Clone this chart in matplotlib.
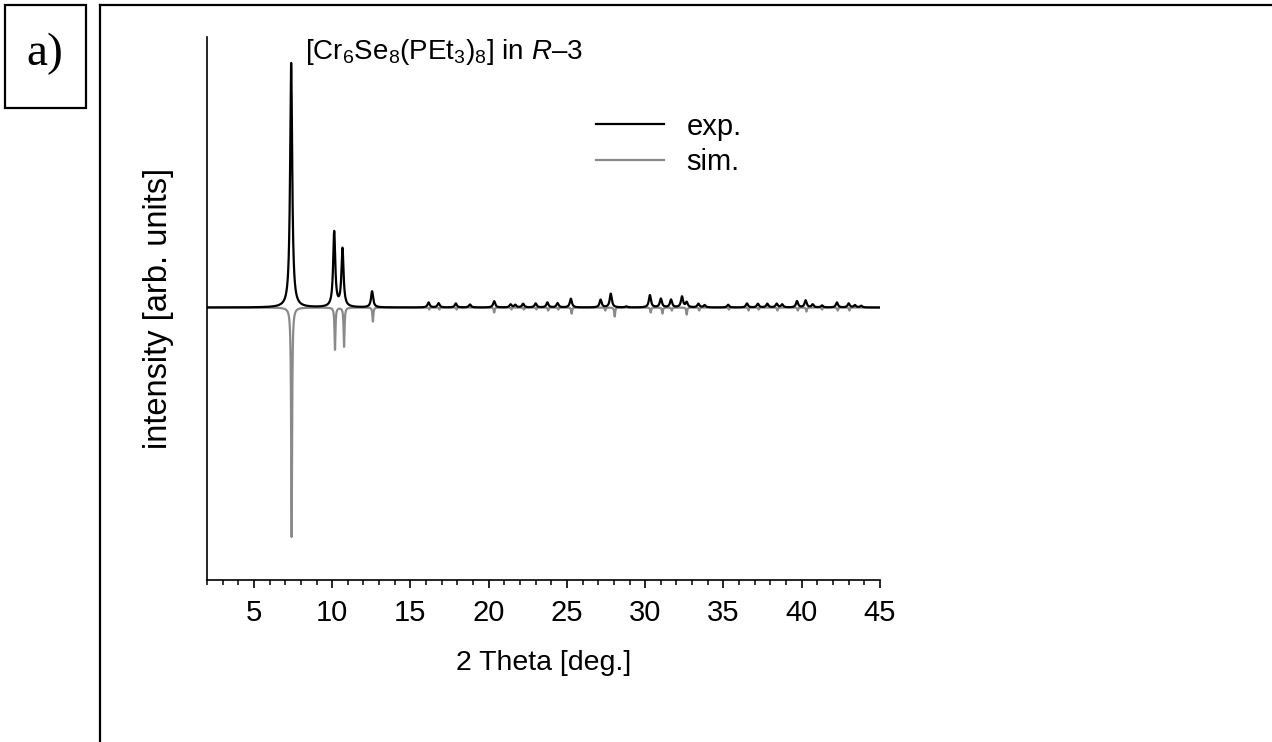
import numpy as np
import matplotlib
matplotlib.use("Agg")
from matplotlib import pyplot as plt
from matplotlib.lines import Line2D

plt.rcParams['font.family'] = ['Liberation Sans', 'DejaVu Sans']
plt.rcParams['mathtext.fontset'] = 'custom'
plt.rcParams['mathtext.rm'] = 'Liberation Sans'
plt.rcParams['mathtext.it'] = 'Liberation Sans:italic'

# peak positions (2 theta) and heights (arb. units)
exp_pos = [7.38, 10.13, 10.66, 12.55, 16.16, 16.8, 17.9, 18.8, 20.35, 21.4, 21.7,
           22.2, 23.0, 23.75, 24.4, 25.25, 27.15, 27.8, 28.8, 30.3, 31.0, 31.65,
           32.35, 32.65, 33.4, 33.8, 35.3, 36.5, 37.2, 37.8, 38.4, 38.75, 39.7,
           40.25, 40.7, 41.3, 42.25, 43.0, 43.4, 43.8]
exp_height = [244, 75, 58, 16, 5, 4.3, 4, 3, 6.3, 3, 2.5,
              3.7, 4, 5, 4.3, 8.7, 7.7, 13.7, 1, 12.3, 8.7, 7.7,
              10.7, 5, 3.7, 2.3, 2.7, 4, 3.7, 3.7, 3.7, 3, 6.3,
              7, 3, 2, 5, 4, 2.3, 1.7]

sim_pos = [7.41, 10.18, 10.76, 12.6, 16.2, 16.85, 17.95, 20.35, 21.45, 22.25,
           23.05, 23.8, 24.45, 25.3, 27.45, 28.05, 30.35, 31.1, 31.7, 32.65,
           33.45, 35.35, 36.6, 37.25, 38.45, 39.75, 40.3, 41.3, 42.3, 43.05]
sim_depth = [229, 42, 39, 14, 2, 2, 2, 5, 2, 2,
             2, 3, 2, 6, 3, 9, 5, 6, 3, 7,
             3, 2, 3, 2, 3, 3, 4, 2, 3, 3]

x_min, x_max = 2, 45
tth = np.linspace(x_min, x_max, 8601)


def pattern(pos, amp, hw):
    y = np.zeros_like(tth)
    for p, a in zip(pos, amp):
        y += a * hw ** 2 / ((tth - p) ** 2 + hw ** 2)
    return y


exp_y = pattern(exp_pos, exp_height, 0.08)
sim_y = -pattern(sim_pos, sim_depth, 0.035)

fig = plt.figure(figsize=(12.72, 7.42), dpi=100)
ax = fig.add_axes([0.1627, 0.2183, 0.5291, 0.7318])

ax.plot(tth, sim_y, color='#8a8a8a', lw=1.6, label='sim.')
ax.plot(tth, exp_y, color='black', lw=1.6, label='exp.')

ax.set_xlim(x_min, x_max)
ax.set_ylim(-272, 270)
ax.set_xticks(np.arange(5, 46, 5))
ax.set_xticks(np.arange(2, 46, 1), minor=True)
ax.set_yticks([])
for s in ['top', 'right']:
    ax.spines[s].set_visible(False)
for s in ['left', 'bottom']:
    ax.spines[s].set_linewidth(1.2)
ax.tick_params(axis='x', which='major', direction='out', length=6, width=1.2,
               labelsize=21, pad=8)
ax.tick_params(axis='x', which='minor', direction='out', length=3.5, width=1.1)
ax.set_xlabel('2 Theta [deg.]', fontsize=20.5, labelpad=16)
ax.set_ylabel('intensity [arb. units]', fontsize=23.5, labelpad=24)

ax.text(0.145, 1.0, r'[Cr$_6$Se$_8$(PEt$_3$)$_8$] in $\it{R}$–3',
        transform=ax.transAxes, fontsize=20, va='top', ha='left')

h, l = ax.get_legend_handles_labels()
ax.legend(h[::-1], l[::-1], loc='upper left', bbox_to_anchor=(0.578, 0.861),
          frameon=False, fontsize=21, handlelength=2.35, handletextpad=0.75,
          labelspacing=0.25, borderpad=0, borderaxespad=0)

# panel frame and "a)" label box
fig.add_artist(Line2D([100 / 1272, 100 / 1272], [0, 1 - 5 / 742],
                      transform=fig.transFigure, color='black', lw=1.6))
fig.add_artist(Line2D([100 / 1272, 1], [1 - 5 / 742, 1 - 5 / 742],
                      transform=fig.transFigure, color='black', lw=1.6))
fig.add_artist(plt.Rectangle((5 / 1272, 1 - 108 / 742), 81 / 1272, 103 / 742,
                             transform=fig.transFigure, fill=False,
                             edgecolor='black', lw=1.6))
fig.text(45 / 1272, 1 - 54 / 742, 'a)', family='Liberation Serif', fontsize=34,
         ha='center', va='center')

fig.savefig('out.png', dpi=100)
